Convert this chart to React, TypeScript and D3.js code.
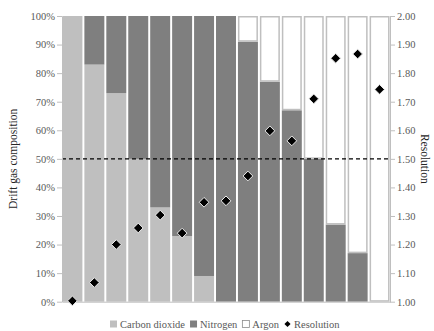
import * as d3 from "d3";
import { useEffect, useRef } from "react";

const carbonDioxide = [100, 83, 73, 50, 33, 23, 9, 0, 0, 0, 0, 0, 0, 0, 0];
const nitrogen = [0, 17, 27, 50, 67, 77, 91, 100, 91, 77, 67, 50, 27, 17, 0];
const argon = [0, 0, 0, 0, 0, 0, 0, 0, 9, 23, 33, 50, 73, 83, 100];
const resolution = [1.003, 1.067, 1.2, 1.258, 1.303, 1.24, 1.348, 1.353, 1.44, 1.598, 1.563, 1.71, 1.852, 1.867, 1.743];
const leftTicks = [0, 10, 20, 30, 40, 50, 60, 70, 80, 90, 100];
const rightTicks = [1.0, 1.1, 1.2, 1.3, 1.4, 1.5, 1.6, 1.7, 1.8, 1.9, 2.0];

const SERIES = [
  { key: "Carbon dioxide", values: carbonDioxide, fill: "#bfbfbf", stroke: "#ffffff" },
  { key: "Nitrogen", values: nitrogen, fill: "#7f7f7f", stroke: "#ffffff" },
  { key: "Argon", values: argon, fill: "#ffffff", stroke: "#bfbfbf" },
];

const FONT = "'Liberation Serif', 'Times New Roman', serif";
const TEXT = "#595959";

export default function App() {
  const ref = useRef<SVGSVGElement | null>(null);

  useEffect(() => {
    const svg = d3.select(ref.current);
    svg.selectAll("*").remove();
    const W = 434;
    const H = 331;
    const m = { left: 62, right: 44, top: 16, bottom: 29.3 };
    const iw = W - m.left - m.right;
    const ih = H - m.top - m.bottom;

    const idx = d3.range(carbonDioxide.length);
    const x = d3.scaleBand<number>().domain(idx).range([m.left, m.left + iw]).paddingInner(0.09).paddingOuter(0.02);
    const yL = d3.scaleLinear().domain([0, 100]).range([m.top + ih, m.top]);
    const yR = d3.scaleLinear().domain([1, 2]).range([m.top + ih, m.top]);

    const rows = idx.map((i) => ({ i, "Carbon dioxide": carbonDioxide[i], Nitrogen: nitrogen[i], Argon: argon[i] }));
    const stack = d3.stack<any>().keys(SERIES.map((s) => s.key));
    const layers = stack(rows);

    layers.forEach((layer, li) => {
      const s = SERIES[li];
      const inset = s.key === "Argon" ? 0.75 : 0;
      svg
        .append("g")
        .selectAll("rect")
        .data(layer.filter((d) => d[1] - d[0] > 0))
        .join("rect")
        .attr("x", (d: any) => x(d.data.i)! + inset)
        .attr("width", x.bandwidth() - inset * 2)
        .attr("y", (d) => yL(d[1]) + inset)
        .attr("height", (d) => yL(d[0]) - yL(d[1]) - inset * 2)
        .attr("fill", s.fill)
        .attr("stroke", s.key === "Argon" ? s.stroke : "none")
        .attr("stroke-width", 1.5);
    });

    // 50% reference line
    svg
      .append("line")
      .attr("x1", m.left)
      .attr("x2", m.left + iw)
      .attr("y1", yL(50))
      .attr("y2", yL(50))
      .attr("stroke", "#000")
      .attr("stroke-width", 1.3)
      .attr("stroke-dasharray", "4 3");

    // axes
    const axisL = svg
      .append("g")
      .attr("transform", `translate(${m.left},0)`)
      .call(d3.axisLeft(yL).tickValues(leftTicks).tickSize(5).tickSizeOuter(0).tickFormat((d) => `${d}%`));
    const axisR = svg
      .append("g")
      .attr("transform", `translate(${m.left + iw},0)`)
      .call(d3.axisRight(yR).tickValues(rightTicks).tickSize(5).tickSizeOuter(0).tickFormat(d3.format(".2f")));
    const axisB = svg
      .append("g")
      .attr("transform", `translate(0,${m.top + ih})`)
      .call(d3.axisBottom(x).tickSize(0).tickFormat(() => ""));
    [axisL, axisR, axisB].forEach((a) => {
      a.selectAll("path,line").attr("stroke", "#bfbfbf").attr("stroke-width", 1);
      a.selectAll("text").attr("fill", TEXT).attr("font-family", FONT).attr("font-size", 10.5);
    });
    axisL.selectAll("text").attr("x", -7);
    axisR.selectAll("text").attr("x", 7);

    // resolution markers
    const diamond = d3.symbol().type(d3.symbolDiamond2).size(60);
    svg
      .append("g")
      .selectAll("path")
      .data(resolution)
      .join("path")
      .attr("d", diamond)
      .attr("transform", (d, i) => `translate(${x(i)! + x.bandwidth() / 2},${yR(d)})`)
      .attr("fill", "#000")
      .attr("stroke", "#ececec")
      .attr("stroke-width", 1);

    // axis titles
    svg
      .append("text")
      .attr("transform", `translate(17,${m.top + ih / 2}) rotate(-90)`)
      .attr("text-anchor", "middle")
      .attr("font-family", FONT)
      .attr("font-size", 11.5)
      .attr("fill", "#262626")
      .text("Drift gas composition");
    svg
      .append("text")
      .attr("transform", `translate(421,${m.top + ih / 2}) rotate(90)`)
      .attr("text-anchor", "middle")
      .attr("font-family", FONT)
      .attr("font-size", 11.5)
      .attr("fill", "#262626")
      .text("Resolution");

    // legend
    const items = [
      ...SERIES.map((s) => ({ label: s.key, fill: s.fill, stroke: s.key === "Argon" ? "#8c8c8c" : "none", shape: "square" })),
      { label: "Resolution", fill: "#000", stroke: "none", shape: "diamond" },
    ];
    const legend = svg.append("g");
    let cx = 110;
    const ly = 324;
    items.forEach((it) => {
      if (it.shape === "square") {
        legend
          .append("rect")
          .attr("x", cx)
          .attr("y", ly - 3.5)
          .attr("width", 7)
          .attr("height", 7)
          .attr("fill", it.fill)
          .attr("stroke", it.stroke)
          .attr("stroke-width", 0.8);
      } else {
        legend
          .append("path")
          .attr("d", d3.symbol().type(d3.symbolDiamond2).size(24)())
          .attr("transform", `translate(${cx + 3.5},${ly})`)
          .attr("fill", it.fill);
      }
      const t = legend
        .append("text")
        .attr("x", cx + 10)
        .attr("y", ly + 3.8)
        .attr("font-family", FONT)
        .attr("font-size", 10.5)
        .attr("fill", TEXT)
        .text(it.label);
      const w = (t.node() as SVGTextElement).getComputedTextLength();
      cx += 10 + w + 5;
    });
  }, []);

  return (
    <div style={{ position: "fixed", left: 0, top: 0, width: 434, height: 331 }}>
      <svg ref={ref} width={434} height={331} style={{ display: "block", background: "#fff" }} />
    </div>
  );
}
